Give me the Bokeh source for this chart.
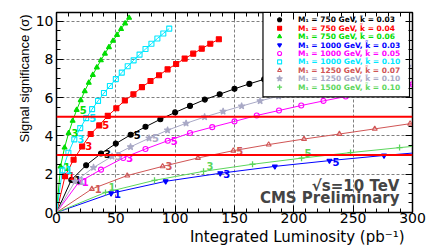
import math
from bokeh.plotting import figure
from bokeh.models import (Range1d, LinearAxis, Span, Label, SingleIntervalTicker,
                          ColumnDataSource, Title)
from bokeh.core.properties import value
from bokeh.embed import file_html
from bokeh.resources import INLINE

# ---------------- data ----------------
lumi_750_003 = [12.5, 25, 37.5, 50, 62.5, 75, 87.5, 100, 112.5, 125, 137.5, 150, 162.5,
                175, 187.5, 200, 212.5, 225, 237.5]
sig_750_003 = [1.70, 2.47, 3.08, 3.60, 4.06, 4.48, 4.87, 5.23, 5.57, 5.90, 6.18, 6.46, 6.72,
               6.96, 7.20, 7.42, 7.64, 7.86, 8.07]

lumi_750_004 = [7.2, 14.4, 21.6, 28.8, 36.0, 43.2, 50.4, 57.6, 64.8, 72.0, 79.2, 86.4, 93.6,
                100.8, 108.0, 115.2, 122.4, 129.6, 136.8]
sig_750_004 = [1.90, 2.76, 3.45, 4.10, 4.55, 5.05, 5.45, 5.85, 6.18, 6.55, 6.87, 7.17, 7.48,
               7.76, 8.04, 8.30, 8.56, 8.82, 9.05]

lumi_750_006 = [3.4, 6.8, 10.2, 13.6, 17.0, 20.4, 23.8, 27.2, 30.6, 34.0, 37.4, 40.8, 44.2,
                47.6, 51.0, 54.4, 57.8, 61.2]
sig_750_006 = [2.40, 3.39, 4.15, 4.79, 5.36, 5.87, 6.34, 6.78, 7.19, 7.58, 7.95, 8.30, 8.64,
               8.97, 9.28, 9.59, 9.88, 10.17]

lumi_1000_003 = [46, 92, 138, 184, 230, 276, 322]
sig_1000_003 = [1.00, 1.63, 2.05, 2.41, 2.71, 2.98, 3.22]

lumi_1000_005 = [18.75, 37.5, 56.25, 75, 93.75, 112.5, 131.25, 150, 168.75, 187.5, 206.25,
                 225, 243.75, 262.5, 281.25, 300, 318.75]
sig_1000_005 = [1.58, 2.24, 2.85, 3.32, 3.75, 4.15, 4.46, 4.76, 5.07, 5.33, 5.59, 5.83, 6.06,
                6.28, 6.50, 6.70, 6.90]

lumi_1000_010 = [5, 10, 15, 20, 25, 30, 35, 40, 45, 50, 55, 60, 65, 70, 75, 80, 85, 90, 95]
sig_1000_010 = [2.20, 3.12, 3.82, 4.41, 4.93, 5.40, 5.83, 6.24, 6.61, 6.97, 7.31, 7.64, 7.95,
                8.25, 8.54, 8.82, 9.09, 9.35, 9.61]

lumi_1250_007 = [29.8, 59.6, 89.4, 119.2, 149.0, 178.8, 208.6, 238.4, 268.2, 298.0, 327.8]
sig_1250_007 = [1.23, 1.93, 2.41, 2.85, 3.23, 3.55, 3.84, 4.10, 4.37, 4.64, 4.88]

lumi_1250_010 = [15.6, 31.2, 46.8, 62.4, 78.0, 93.6, 109.2, 124.8, 140.4, 156.0, 171.6, 187.2,
                 202.8, 218.4, 234.0, 249.6, 265.2, 280.8, 296.4]
sig_1250_010 = [1.62, 2.35, 2.93, 3.43, 3.88, 4.30, 4.66, 4.99, 5.28, 5.56, 5.83, 6.08, 6.33,
                6.57, 6.80, 7.02, 7.23, 7.44, 7.64]

lumi_1500_010 = [41.3, 82.6, 123.9, 165.2, 206.5, 247.8, 289.1, 330.4]
sig_1500_010 = [1.05, 1.68, 2.15, 2.52, 2.84, 3.13, 3.39, 3.63]

legend_labels = [
    "M\u2081 = 750 GeV, k\u0303 = 0.03",
    "M\u2081 = 750 GeV, k\u0303 = 0.04",
    "M\u2081 = 750 GeV, k\u0303 = 0.06",
    "M\u2081 = 1000 GeV, k\u0303 = 0.03",
    "M\u2081 = 1000 GeV, k\u0303 = 0.05",
    "M\u2081 = 1000 GeV, k\u0303 = 0.10",
    "M\u2081 = 1250 GeV, k\u0303 = 0.07",
    "M\u2081 = 1250 GeV, k\u0303 = 0.10",
    "M\u2081 = 1500 GeV, k\u0303 = 0.10",
]
point_tags = ["1", "3", "5"]
point_tag_index = [0, 2, 4]
thresholds = [3, 5]
energy_text = "\u221as=10 TeV"
cms_text = "CMS Preliminary"
x_title = "Integrated Luminosity (pb\u207b\u00b9)"
y_title = "Signal significance (\u03c3)"

# ---------------- styles ----------------
series = [
    (lumi_750_003, sig_750_003, "#000000", "circle", True, 0),
    (lumi_750_004, sig_750_004, "#ff0000", "square", True, 0),
    (lumi_750_006, sig_750_006, "#00dd00", "triangle", True, 0),
    (lumi_1000_003, sig_1000_003, "#0000ff", "inverted_triangle", True, 1),
    (lumi_1000_005, sig_1000_005, "#ff00ff", "circle", False, 0),
    (lumi_1000_010, sig_1000_010, "#00e8ff", "square", False, 0),
    (lumi_1250_007, sig_1250_007, "#d05555", "triangle", False, 0),
    (lumi_1250_010, sig_1250_010, "#a9a9c6", "star", True, 0),
    (lumi_1500_010, sig_1500_010, "#5cd65c", "cross", False, -5),
]

p = figure(width=436, height=245, x_range=Range1d(0, 300), y_range=Range1d(0, 10.45),
           output_backend="svg", toolbar_location=None,
           min_border_left=56, min_border_right=24, min_border_top=12, min_border_bottom=32)
p.background_fill_color = "white"
p.border_fill_color = "white"
p.outline_line_color = "black"
p.outline_line_width = 1.5

xt = SingleIntervalTicker(interval=50, num_minor_ticks=5)
yt = SingleIntervalTicker(interval=2, num_minor_ticks=4)
for ax, tk in ((p.xaxis[0], xt), (p.yaxis[0], yt)):
    ax.ticker = tk
    ax.major_tick_in = 7
    ax.major_tick_out = 0
    ax.minor_tick_in = 4
    ax.minor_tick_out = 0
    ax.major_label_text_font = "DejaVu Sans"
    ax.major_label_text_font_size = "14px"
    ax.major_label_text_color = "black"
    ax.axis_line_color = "black"
p.xaxis.major_label_standoff = 0
p.yaxis.major_label_standoff = 3

p.add_layout(Title(text=x_title, align="right", offset=8, standoff=0,
                   text_font="DejaVu Sans", text_font_size="15px",
                   text_font_style="normal", text_color="black"), "below")
p.add_layout(Title(text=y_title, align="right", offset=2, standoff=1,
                   text_font="Liberation Sans", text_font_size="13px",
                   text_font_style="normal", text_color="black"), "left")

for loc, tk in (("above", xt), ("right", yt)):
    a = LinearAxis(ticker=tk, major_tick_in=7, major_tick_out=0, minor_tick_in=4,
                   minor_tick_out=0, major_label_text_font_size="0px",
                   major_label_standoff=0, axis_line_color="black")
    p.add_layout(a, loc)

p.xgrid.ticker = xt
p.ygrid.ticker = yt
for g in (p.xgrid[0], p.ygrid[0]):
    g.grid_line_color = "#808080"
    g.grid_line_dash = "3 2"
    g.grid_line_width = 1

for t in thresholds:
    p.add_layout(Span(location=t, dimension="width", line_color="#ff0000", line_width=2))

for xs, ys, col, mk, filled, dy in series:
    p.line([0] + xs, [0] + ys, line_color=col, line_width=1)
for xs, ys, col, mk, filled, dy in series:
    if mk == "cross":
        p.scatter(xs, ys, marker=mk, size=6, line_color=col, line_width=1.3)
    else:
        p.scatter(xs, ys, marker=mk, size=5 if mk != "star" else 7,
                  line_color=col, fill_color=col if filled else "white",
                  fill_alpha=1.0 if filled else 0.0, line_width=1.1)
    tx = [xs[i] for i in point_tag_index]
    ty = [ys[i] for i in point_tag_index]
    p.text(tx, ty, text=point_tags, x_offset=3, y_offset=dy, text_baseline="middle",
           text_align="left", text_color=col, text_font=value("DejaVu Sans"),
           text_font_style="bold", text_font_size="10px")

# legend box
p.quad(left=[174], right=[297.5], bottom=[6.04], top=[10.45], fill_color="white",
       line_color="black", line_width=1.2)
leg_y = [10.07 - 0.44 * i for i in range(len(series))]
for i, (xs, ys, col, mk, filled, dy) in enumerate(series):
    if mk == "cross":
        p.scatter([188], [leg_y[i]], marker=mk, size=5, line_color=col, line_width=1.3)
    else:
        p.scatter([188], [leg_y[i]], marker=mk, size=4 if mk != "star" else 6,
                  line_color=col, fill_color=col if filled else "white", line_width=1.1)
src = ColumnDataSource(dict(x=[203.5] * len(series), y=leg_y, t=legend_labels,
                            c=[s[2] for s in series]))
p.text(x="x", y="y", text="t", text_color="c", source=src, text_baseline="middle",
       text_font=value("DejaVu Sans"), text_font_style="bold", text_font_size="7.5px")

p.add_layout(Label(x=289, y=1.41, text=energy_text, text_align="right",
                   text_baseline="middle", text_font="DejaVu Sans",
                   text_font_style="bold", text_font_size="15px"))
p.add_layout(Label(x=289, y=0.78, text=cms_text, text_align="right",
                   text_baseline="middle", text_font="DejaVu Sans",
                   text_font_style="bold", text_font_size="15px"))

open("out.html", "w").write(file_html(p, INLINE))
